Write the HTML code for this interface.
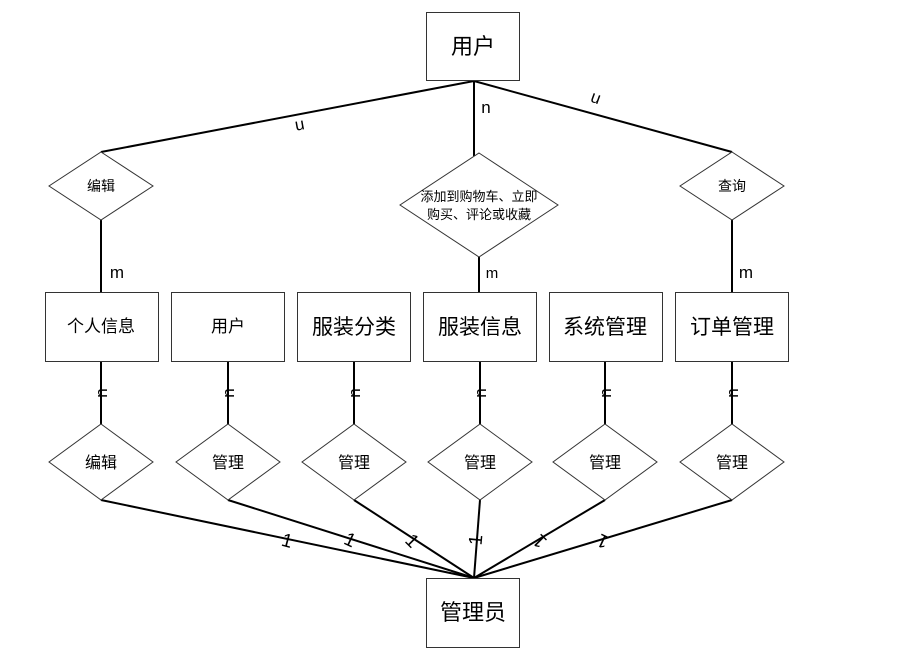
<!DOCTYPE html>
<html><head><meta charset="utf-8"><style>
body{margin:0;background:#fff;}
svg text{font-family:"Liberation Sans","Noto Sans CJK SC",sans-serif;fill:#000;}
</style></head><body>
<svg width="900" height="649" viewBox="0 0 900 649" xmlns="http://www.w3.org/2000/svg">
<g stroke="#000" stroke-width="2" fill="none">
<line x1="474" y1="81" x2="101" y2="152"/>
<line x1="474" y1="81" x2="474" y2="156"/>
<line x1="474" y1="81" x2="732" y2="152"/>
<line x1="101" y1="220" x2="101" y2="292"/>
<line x1="479" y1="257" x2="479" y2="292"/>
<line x1="732" y1="220" x2="732" y2="292"/>
<line x1="101" y1="362" x2="101" y2="424"/>
<line x1="228" y1="362" x2="228" y2="424"/>
<line x1="354" y1="362" x2="354" y2="424"/>
<line x1="480" y1="362" x2="480" y2="424"/>
<line x1="605" y1="362" x2="605" y2="424"/>
<line x1="732" y1="362" x2="732" y2="424"/>
<line x1="101" y1="500" x2="474" y2="578"/>
<line x1="228" y1="500" x2="474" y2="578"/>
<line x1="354" y1="500" x2="474" y2="578"/>
<line x1="480" y1="500" x2="474" y2="578"/>
<line x1="605" y1="500" x2="474" y2="578"/>
<line x1="732" y1="500" x2="474" y2="578"/>
</g>
<g stroke="#333" stroke-width="1" fill="#fff">
<rect x="426.5" y="12.5" width="93" height="68"/>
<rect x="426.5" y="578.5" width="93" height="69"/>
<rect x="45.5" y="292.5" width="113" height="69"/>
<rect x="171.5" y="292.5" width="113" height="69"/>
<rect x="297.5" y="292.5" width="113" height="69"/>
<rect x="423.5" y="292.5" width="113" height="69"/>
<rect x="549.5" y="292.5" width="113" height="69"/>
<rect x="675.5" y="292.5" width="113" height="69"/>
<polygon points="101,152 153,186 101,220 49,186"/>
<polygon points="479,153 558,205 479,257 400,205"/>
<polygon points="732,152 784,186 732,220 680,186"/>
<polygon points="101,424 153,462 101,500 49,462"/>
<polygon points="228,424 280,462 228,500 176,462"/>
<polygon points="354,424 406,462 354,500 302,462"/>
<polygon points="480,424 532,462 480,500 428,462"/>
<polygon points="605,424 657,462 605,500 553,462"/>
<polygon points="732,424 784,462 732,500 680,462"/>
</g>
<g text-anchor="middle">
<text x="473" y="54" font-size="22">用户</text>
<text x="473" y="620" font-size="22">管理员</text>
<text x="101" y="332" font-size="17">个人信息</text>
<text x="228" y="332" font-size="17">用户</text>
<text x="354" y="334" font-size="21">服装分类</text>
<text x="480" y="334" font-size="21">服装信息</text>
<text x="605" y="334" font-size="21">系统管理</text>
<text x="732" y="334" font-size="21">订单管理</text>
<text x="101" y="191" font-size="14">编辑</text>
<text x="732" y="191" font-size="14">查询</text>
<text x="479" y="201" font-size="13">添加到购物车、立即</text>
<text x="479" y="219" font-size="13">购买、评论或收藏</text>
<text x="101" y="468" font-size="16">编辑</text>
<text x="228" y="468" font-size="16">管理</text>
<text x="354" y="468" font-size="16">管理</text>
<text x="480" y="468" font-size="16">管理</text>
<text x="605" y="468" font-size="16">管理</text>
<text x="732" y="468" font-size="16">管理</text>
<text x="486" y="113" font-size="17">n</text>
<text font-size="17" transform="translate(300,127) rotate(170)" dy="6">n</text>
<text font-size="17" transform="translate(595,100) rotate(200)" dy="6">n</text>
<text x="117" y="278" font-size="17">m</text>
<text x="492" y="278" font-size="15">m</text>
<text x="746" y="278" font-size="17">m</text>
<g font-size="17">
<text transform="translate(101,393) rotate(-90)" dy="6">n</text>
<text transform="translate(228,393) rotate(-90)" dy="6">n</text>
<text transform="translate(354,393) rotate(-90)" dy="6">n</text>
<text transform="translate(480,393) rotate(-90)" dy="6">n</text>
<text transform="translate(605,393) rotate(-90)" dy="6">n</text>
<text transform="translate(732,393) rotate(-90)" dy="6">n</text>
</g>
<g font-size="19">
<text transform="translate(287,541) rotate(15)" dy="6">1</text>
<text transform="translate(350,540) rotate(25)" dy="6">1</text>
<text transform="translate(412,541) rotate(45)" dy="6">1</text>
<text transform="translate(476,540) rotate(-85)" dy="6">1</text>
<text transform="translate(540,541) rotate(225)" dy="6">1</text>
<text transform="translate(603,541) rotate(205)" dy="6">1</text>
</g>
</g>
</svg>
</body></html>
